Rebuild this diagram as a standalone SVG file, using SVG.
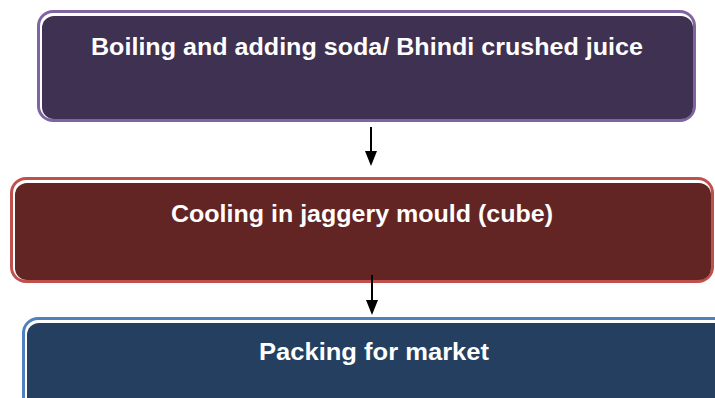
<svg xmlns="http://www.w3.org/2000/svg" width="715" height="398" viewBox="0 0 715 398">
<style>
.t{font-family:"Liberation Sans",Arial,sans-serif;font-weight:bold;font-size:23.5px;fill:#fff;text-anchor:middle}
.w{fill:#fff}
.c{stroke:#000;stroke-width:2;fill:none}
.h{fill:#000}
</style>
<rect width="715" height="398" fill="#fff"/>
<g id="n1">
<rect x="37" y="10" width="659" height="112" rx="16" fill="#8064a2"/>
<rect x="40" y="13" width="653" height="106" rx="13" class="w"/>
<rect x="42" y="16" width="651" height="103" rx="12" fill="#3f3151"/>
<text x="367" y="55" class="t" textLength="552" lengthAdjust="spacingAndGlyphs">Boiling and adding soda/ Bhindi crushed juice</text>
</g>
<g id="n2">
<rect x="10" y="177" width="704" height="106" rx="16" fill="#c0504d"/>
<rect x="13" y="180" width="698" height="100" rx="13" class="w"/>
<rect x="15" y="183" width="696" height="97" rx="12" fill="#632523"/>
<text x="362" y="222" class="t" textLength="382" lengthAdjust="spacingAndGlyphs">Cooling in jaggery mould (cube)</text>
</g>
<g id="n3">
<rect x="22" y="317" width="720" height="100" rx="16" fill="#4f81bd"/>
<rect x="25" y="320" width="714" height="94" rx="13" class="w"/>
<rect x="27" y="323" width="712" height="91" rx="12" fill="#243f60"/>
<text x="374" y="360" class="t" textLength="230" lengthAdjust="spacingAndGlyphs">Packing for market</text>
</g>
<g id="connectors">
<line x1="371" y1="127" x2="371" y2="152" class="c"/>
<path d="M365,151 L377,151 L371,166 Z" class="h"/>
<line x1="372" y1="275" x2="372" y2="301" class="c"/>
<path d="M366,300 L378,300 L372,315 Z" class="h"/>
</g>
</svg>
